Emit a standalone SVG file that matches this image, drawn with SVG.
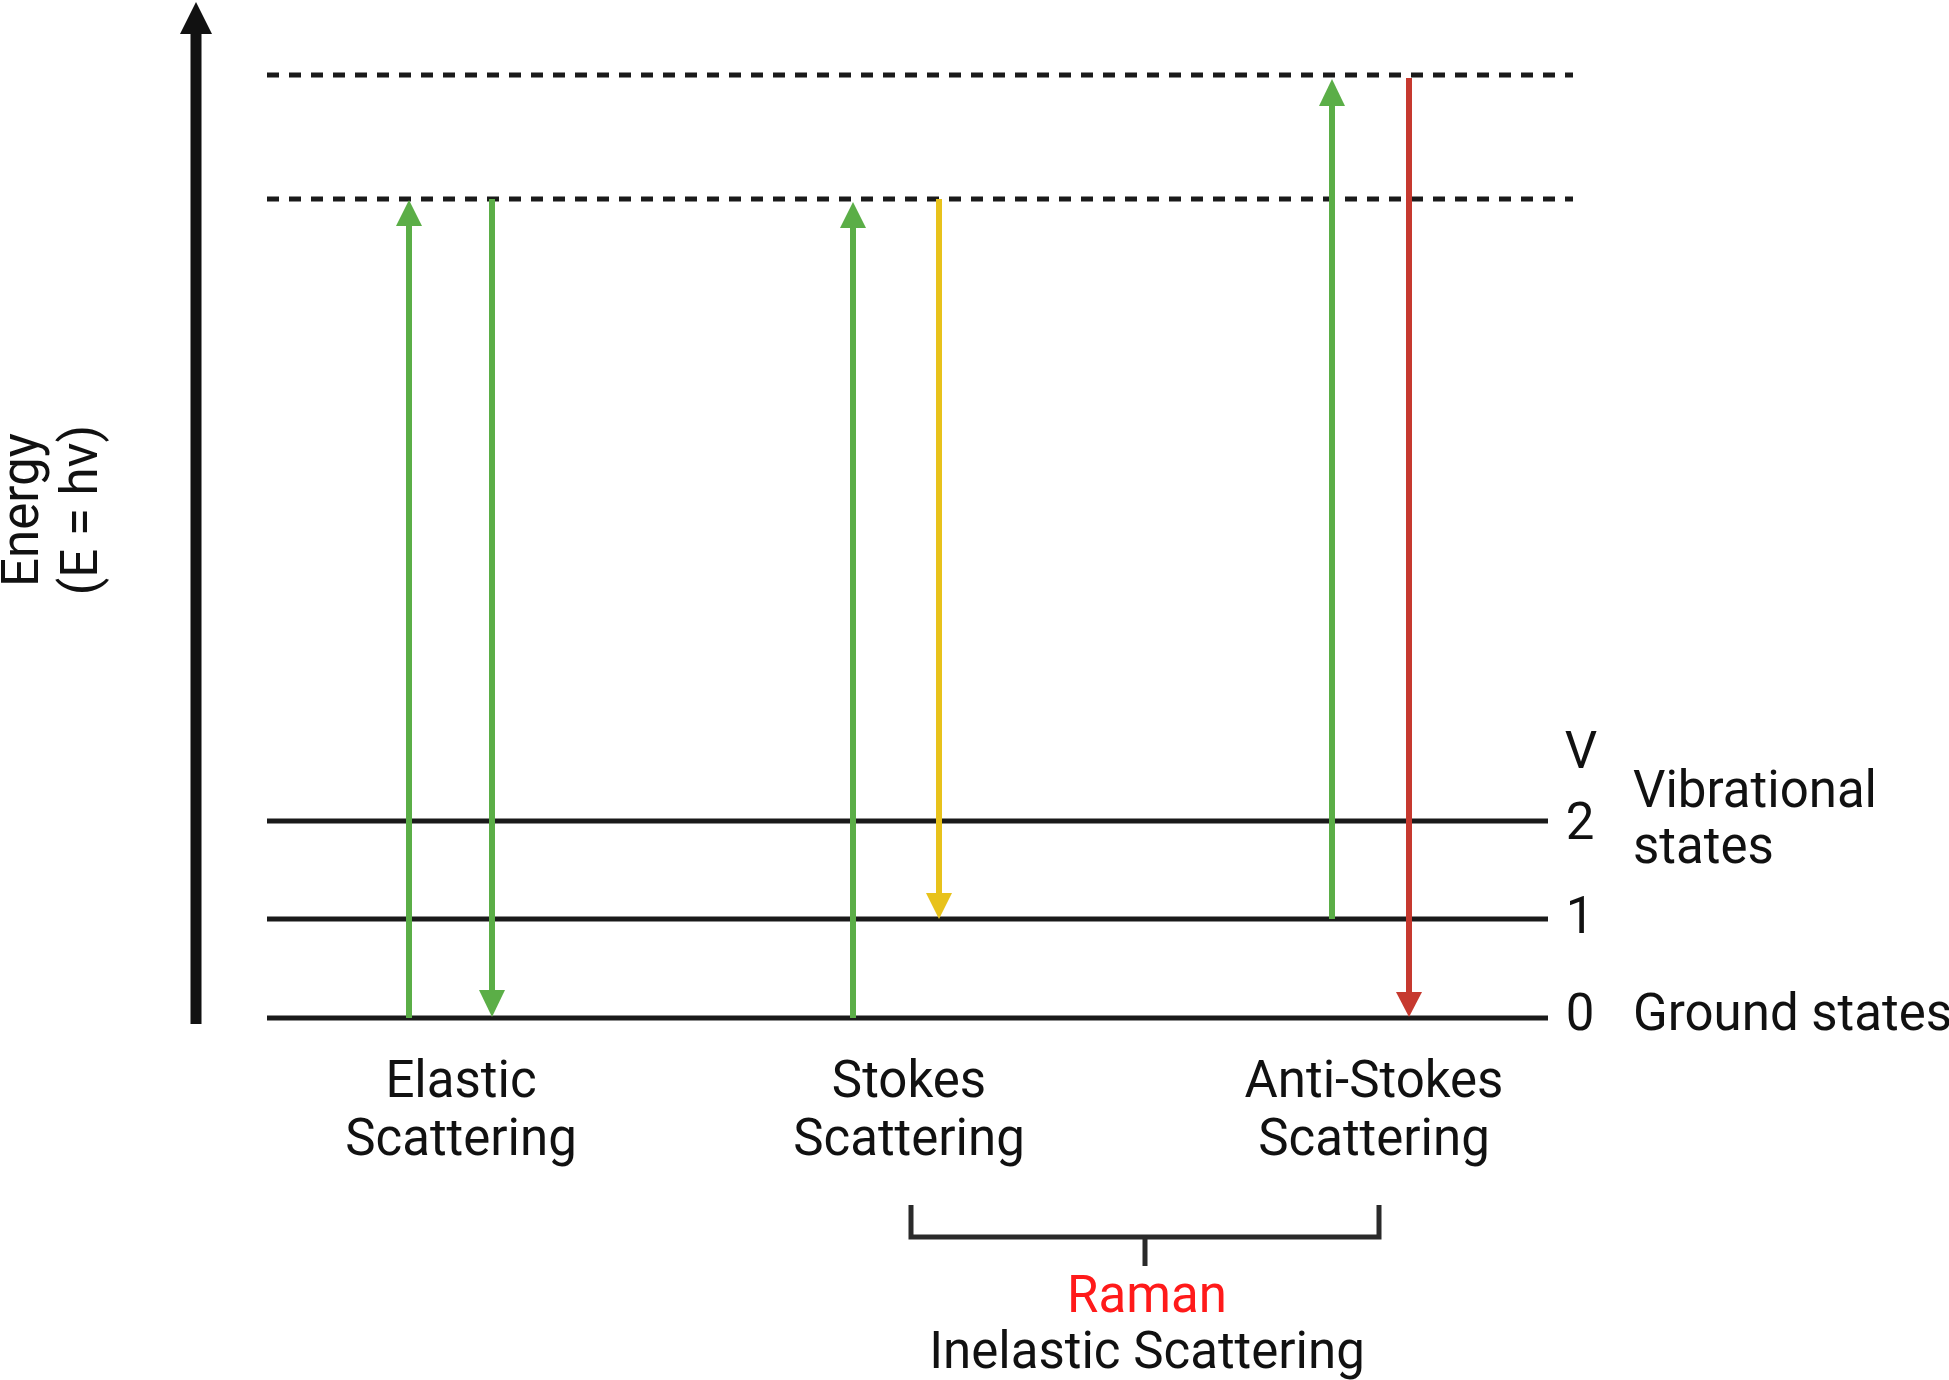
<svg xmlns="http://www.w3.org/2000/svg" width="1949" height="1380" viewBox="0 0 1949 1380">
<style>
text{font-family:Roboto,"Liberation Sans",sans-serif;font-size:51px;fill:#111}
.lvl{stroke:#1a1a1a;stroke-width:5;fill:none}
.dash{stroke:#1a1a1a;stroke-width:5;stroke-dasharray:12 10;fill:none}
.g{stroke:#5BAE47;stroke-width:6;fill:none}
.gf{fill:#5BAE47}
.y{stroke:#E8C21B;stroke-width:6;fill:none}
.yf{fill:#E8C21B}
.r{stroke:#C6392F;stroke-width:6;fill:none}
.rf{fill:#C6392F}
.br{stroke:#2a2a2a;stroke-width:5;fill:none}
</style>
<rect width="1949" height="1380" fill="#fff"/>
<g id="axis">
<line x1="196" y1="1024" x2="196" y2="30" stroke="#111" stroke-width="11"/>
<polygon points="196,2 180,34 212,34" fill="#111"/>
<text transform="translate(38,510) rotate(-90)" text-anchor="middle">Energy</text>
<text transform="translate(97,510) rotate(-90)" text-anchor="middle">(E = hv)</text>
</g>
<g id="levels">
<line class="dash" x1="267" y1="75" x2="1573" y2="75"/>
<line class="dash" x1="267" y1="199" x2="1573" y2="199"/>
<line class="lvl" x1="267" y1="821" x2="1548" y2="821"/>
<line class="lvl" x1="267" y1="919" x2="1548" y2="919"/>
<line class="lvl" x1="267" y1="1018" x2="1548" y2="1018"/>
</g>
<g id="level-labels">
<text x="1581" y="768" text-anchor="middle">V</text>
<text x="1580" y="839" text-anchor="middle">2</text>
<text x="1580" y="933" text-anchor="middle">1</text>
<text x="1580" y="1030" text-anchor="middle">0</text>
<text x="1633" y="807">Vibrational</text>
<text x="1633" y="863">states</text>
<text x="1633" y="1030">Ground states</text>
</g>
<g id="connectors">
<line class="g" x1="409" y1="1018" x2="409" y2="222"/>
<polygon class="gf" points="409,200 396,226 422,226"/>
<line class="g" x1="492" y1="199" x2="492" y2="995"/>
<polygon class="gf" points="492,1017 479,990 505,990"/>
<line class="g" x1="853" y1="1018" x2="853" y2="224"/>
<polygon class="gf" points="853,202 840,228 866,228"/>
<line class="y" x1="939" y1="199" x2="939" y2="897"/>
<polygon class="yf" points="939,919 926,893 952,893"/>
<line class="g" x1="1332" y1="919" x2="1332" y2="102"/>
<polygon class="gf" points="1332,79 1319,106 1345,106"/>
<line class="r" x1="1409" y1="78" x2="1409" y2="995"/>
<polygon class="rf" points="1409,1017 1396,992 1422,992"/>
</g>
<g id="elastic">
<text x="461" y="1097" text-anchor="middle">Elastic</text>
<text x="461" y="1155" text-anchor="middle">Scattering</text>
</g>
<g id="stokes">
<text x="909" y="1097" text-anchor="middle">Stokes</text>
<text x="909" y="1155" text-anchor="middle">Scattering</text>
</g>
<g id="anti-stokes">
<text x="1374" y="1097" text-anchor="middle">Anti-Stokes</text>
<text x="1374" y="1155" text-anchor="middle">Scattering</text>
</g>
<g id="raman">
<path class="br" d="M911,1205 V1237 H1379 V1205 M1145,1237 V1266"/>
<text x="1147" y="1312" text-anchor="middle" style="fill:#FF1A1A">Raman</text>
<text x="1147" y="1368" text-anchor="middle">Inelastic Scattering</text>
</g>
</svg>
